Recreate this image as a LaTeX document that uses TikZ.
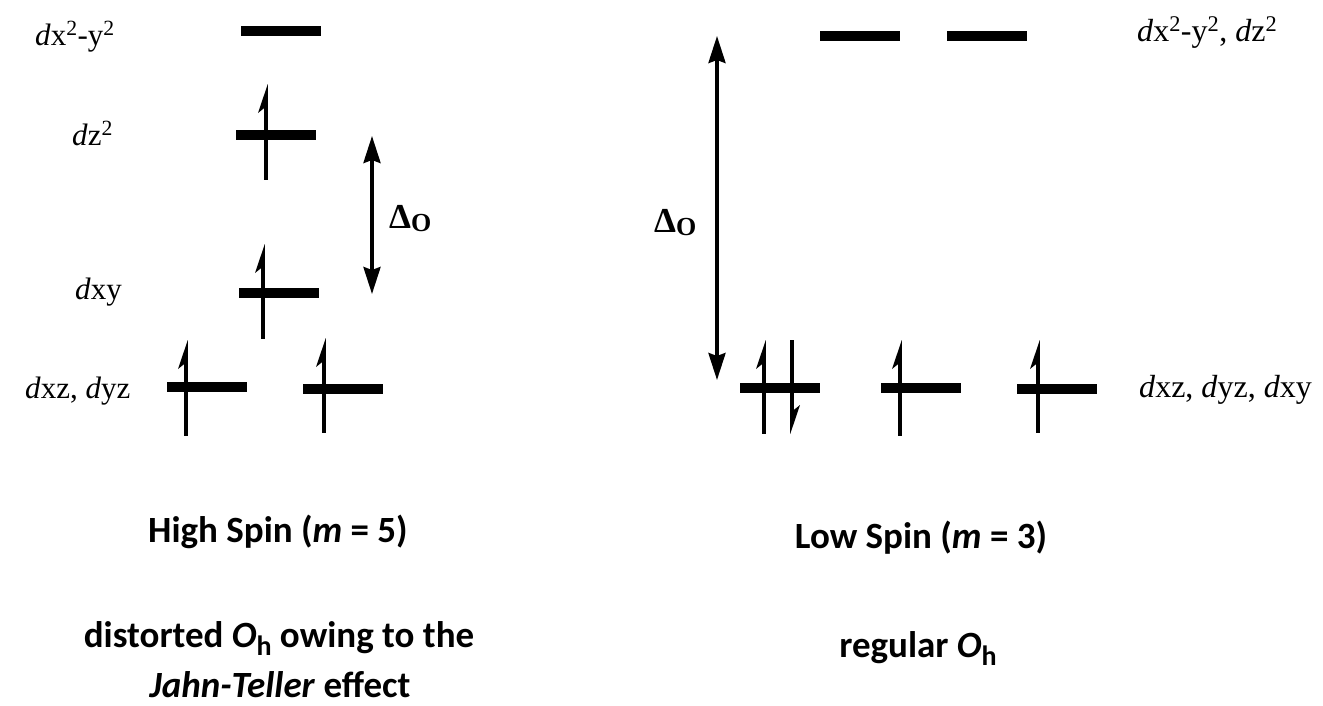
\documentclass[tikz,border=0pt]{standalone}
\usepackage{fontspec}
\setmainfont{Liberation Serif}
\newfontfamily\calib{Carlito}
\usetikzlibrary{arrows.meta}
\newcommand\upspin[3]{%
  \draw[spin] (#1,#2+18) -- (#1,#3);
  \fill (#1+1.8,#2) -- (#1-8,#2+29) -- (#1-1.75,#2+24) -- (#1+1.75,#2+24) -- cycle;}
\newcommand\downspin[3]{%
  \draw[spin] (#1,#2) -- (#1,#3-18);
  \fill (#1-1.8,#3) -- (#1+8,#3-29) -- (#1+1.75,#3-24) -- (#1-1.75,#3-24) -- cycle;}
\newcommand\DO{{\fontsize{35}{35}\selectfont\bfseries\char"0394}\raisebox{-0.3em}{\fontsize{26}{26}\selectfont\bfseries O}}
\newcommand\sub[1]{\raisebox{-0.24em}{\fontsize{28}{28}\selectfont #1}}
\begin{document}
\begin{tikzpicture}[x=1pt,y=-1pt,
  bar/.style={fill=black, minimum width=80pt, minimum height=10.5pt, inner sep=0pt, outer sep=0pt},
  lbl/.style={font=\fontsize{31}{31}\selectfont, inner sep=0pt},
  big/.style={font=\calib\bfseries\fontsize{37}{40}\selectfont, inner sep=0pt, anchor=base},
  gap/.style={line width=3.5pt, {Stealth[length=27pt,width=17pt,inset=3pt]}-{Stealth[length=27pt,width=17pt,inset=3pt]}},
  spin/.style={line width=3.5pt}
]
\useasboundingbox (0,0) rectangle (1323,705);
% left: high spin, distorted
\node[bar] (a1) at (281,31) {};
\node[bar] (a2) at (276,135) {};
\node[bar] (a3) at (279,293) {};
\node[bar] (a4) at (207,387) {};
\node[bar] (a5) at (343,389) {};
\upspin{266}{84}{180}
\upspin{263}{244}{339}
\upspin{186}{340}{436}
\upspin{324}{338}{433}
\coordinate (gLt) at (372,136);
\coordinate (gLb) at (372,294);
\draw[gap] (gLt) -- (gLb);
\node[lbl, anchor=base west] (la1) at (35,45) {\textit{d}x\textsuperscript{2}-y\textsuperscript{2}};
\node[lbl, anchor=base west] (la2) at (72,145) {\textit{d}z\textsuperscript{2}};
\node[lbl, anchor=base west] (la3) at (75,299) {\textit{d}xy};
\node[lbl, anchor=base west] (la4) at (25,398) {\textit{d}xz, \textit{d}yz};
\node[inner sep=0pt, anchor=base west] (dL) at (389,228) {\DO};
% right: low spin, regular
\node[bar] (b1) at (860,36) {};
\node[bar] (b2) at (987,36) {};
\node[bar] (b3) at (780,388) {};
\node[bar] (b4) at (921,388) {};
\node[bar] (b5) at (1057,389) {};
\upspin{764}{340}{434}
\downspin{792}{340}{434}
\upspin{900}{340}{436}
\upspin{1038}{340}{433}
\coordinate (gRt) at (717,36);
\coordinate (gRb) at (717,380);
\draw[gap] (gRt) -- (gRb);
\node[lbl, anchor=base west, font=\fontsize{32}{32}\selectfont] (lb1) at (1137,41) {\textit{d}x\textsuperscript{2}-y\textsuperscript{2}, \textit{d}z\textsuperscript{2}};
\node[lbl, anchor=base west, font=\fontsize{32}{32}\selectfont] (lb2) at (1139,397) {\textit{d}xz, \textit{d}yz, \textit{d}xy};
\node[inner sep=0pt, anchor=base west] (dR) at (654,232) {\DO};
% captions
\node[big] (c1) at (278,542) {High Spin (\textit{m} = 5)};
\node[big] (c2) at (279,647) {distorted \textit{O}\sub{h} owing to the};
\node[big] (c3) at (280,697) {\textit{Jahn-Teller} effect};
\node[big] (c4) at (921,548) {Low Spin (\textit{m} = 3)};
\node[big] (c5) at (918,657) {regular \textit{O}\sub{h}};
\end{tikzpicture}
\end{document}
